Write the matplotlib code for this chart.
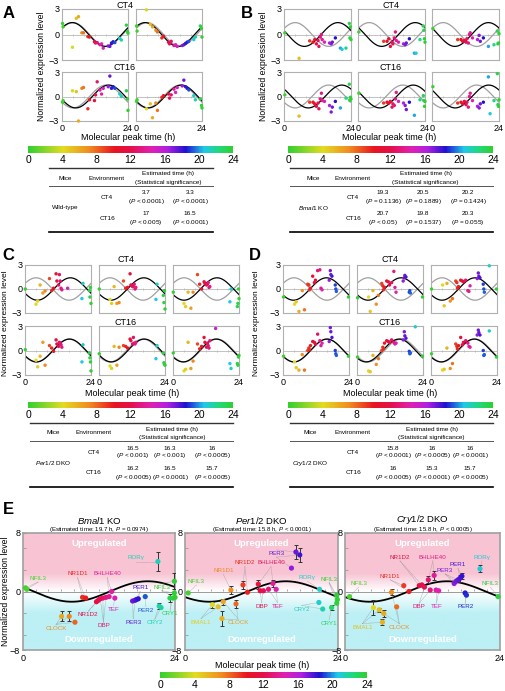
import numpy as np
import matplotlib
matplotlib.use("Agg")
import matplotlib.pyplot as plt
import matplotlib.colorbar as mcb
from matplotlib.colors import LinearSegmentedColormap, Normalize, to_rgb

plt.rcParams["font.family"] = ["Liberation Sans", "DejaVu Sans"]
plt.rcParams["mathtext.fontset"] = "custom"
plt.rcParams["mathtext.rm"] = "Liberation Sans"
plt.rcParams["mathtext.it"] = "Liberation Sans:italic"

W, H = 505, 691
AMP = 1.4
REF_CT4, REF_CT16 = 4.0, 16.0
nan = np.nan

# ---- panel A (wild-type), molecular peak times and normalized levels
xa = [0.2, 0.4, 3.8, 5.2, 6.0, 7.2, 7.8, 9.4, 10.0, 11.8, 12.2, 12.8, 13.8,
      14.4, 15.0, 16.8, 17.4, 18.0, 18.6, 19.2, 21.0, 21.6, 23.4, 23.8, 24.0]
a_ct4_1 = [1.3, 0.9, -1.5, 1.9, 2.1, 0.2, 0.2, -0.25, -0.3, -0.85, -1.0, -0.95, -1.2,
           -1.1, -1.6, -1.35, -1.4, -1.0, -0.85, -0.95, -0.45, -0.65, 1.1, 0.35, 0.15]
a_ct4_2 = [1.0, 0.4, 2.9, 1.2, 0.9, 0.5, 0.3, -0.4, -0.2, -0.9, -1.1, -0.8, -1.3,
           -1.2, -1.4, -1.3, -1.2, -1.05, -0.9, -0.8, -0.6, -0.3, 1.0, 0.7, -0.3]
a_ct16_1 = [-0.7, -0.5, 0.7, 0.6, -3.0, 1.0, 1.1, -1.5, -0.4, -0.5, 0.2, 1.8, 0.8,
            0.3, 1.0, 1.2, 2.5, 1.0, 1.2, 1.0, 0.3, 0.0, 0.7, -0.3, -1.7]
a_ct16_2 = [-0.6, -0.4, -1.5, -0.9, -2.6, -0.8, -1.7, -0.1, 0.1, 0.3, -0.2, 0.2, 0.9,
            0.5, 1.1, 1.3, 2.0, 1.2, 1.0, 0.8, 0.1, -0.4, -0.3, -1.1, -1.4]
a_est_ct4 = [3.7, 3.3]
a_est_ct16 = [17, 16.5]
a_p_ct4 = ["< 0.0001", "< 0.0001"]
a_p_ct16 = ["< 0.005", "< 0.0001"]

# ---- panel B (Bmal1 KO)
xb = [0.3, 5.4, 9.2, 10.4, 11.0, 11.6, 12.2, 12.5, 13.0, 13.4, 13.7, 14.5, 16.3,
      16.9, 17.3, 18.4, 20.2, 20.8, 22.2, 23.4, 23.6, 23.8, 24.0]
b_ct4_1 = [0.2, -2.8, -0.75, -0.9, -0.6, -1.1, -0.7, -1.4, -0.3, 0.0, -0.6, -0.9, -1.0,
           -1.1, -0.9, -0.4, -1.6, -1.75, -1.6, 1.3, -0.4, 0.9, -0.6]
b_ct4_2 = [0.3, nan, -0.8, -0.8, -0.5, -1.4, -0.9, -1.1, -0.4, 0.3, -0.7, -0.9, -1.1,
           -1.2, -1.0, -0.5, -2.2, -2.2, -0.6, 1.0, 0.5, -0.5, -0.9]
b_ct4_3 = [0.7, nan, -0.6, -0.6, -0.8, -0.7, -0.9, -0.5, -1.0, 0.0, 0.2, -0.4, -0.6,
           -0.1, -0.8, -0.4, -1.4, nan, -1.2, 0.4, -1.1, -1.0, 0.1]
b_ct16_1 = [0.2, -2.4, -0.7, -0.7, -0.9, -1.2, -0.8, -1.5, -0.3, 0.4, -0.5, -0.6, -1.1,
            -1.9, -1.3, -0.6, -1.4, nan, -0.2, 1.5, -0.5, -0.1, -0.3]
b_ct16_2 = [0.4, nan, -0.8, -0.7, -0.8, -0.6, -1.3, -0.9, -1.1, -0.3, 0.5, -0.6, -0.8,
            -1.1, -1.6, -0.7, -2.3, nan, -0.4, 0.1, -0.5, -1.2, -0.6]
b_ct16_3 = [1.2, nan, -0.8, -0.7, -0.9, -0.6, -1.0, -0.7, -1.3, 0.0, 0.4, -0.5, -1.2,
            -1.4, -0.9, -0.7, 2.4, -2.1, -0.5, 2.8, -1.0, -1.2, -0.4]
b_est_ct4 = [19.3, 20.5, 20.2]
b_est_ct16 = [20.7, 19.8, 20.3]
b_p_ct4 = ["= 0.1136", "= 0.1889", "= 0.1424"]
b_p_ct16 = ["< 0.05", "= 0.1537", "= 0.055"]

# ---- panel C (Per1/2 DKO)
xc = [0.1, 4.0, 4.6, 5.5, 6.5, 7.3, 8.9, 9.7, 10.4, 11.3, 11.6, 12.2, 12.5, 12.8,
      13.1, 13.4, 15.5, 20.7, 21.1, 23.4, 23.6, 23.8, 24.0]
c_ct4_1 = [0.0, -1.9, -1.5, 0.5, -0.5, -0.25, 1.3, -0.2, 0.1, 1.9, 1.0, 0.5, 1.8, 1.0,
           0.1, -0.1, 0.1, -1.2, 0.7, -0.2, -1.0, 0.2, -1.8]
c_ct4_2 = [0.0, -1.3, -1.8, 0.3, -1.8, -1.7, 1.0, 0.1, 0.2, 1.9, 0.5, 0.3, 0.4, 0.6,
           0.0, 0.2, nan, -1.3, 0.6, -0.8, -1.7, -0.2, -2.5]
c_ct4_3 = [-0.4, -1.8, -2.2, -0.4, -2.4, -0.4, 1.8, 0.6, 0.0, 0.9, 0.7, 0.5, 0.6, 0.8,
           0.2, 0.3, nan, -1.6, 0.0, -2.2, -1.8, 0.0, -1.2]
c_ct16_1 = [0.1, -1.2, -2.0, -0.7, 1.0, -1.8, 0.6, 0.3, -0.1, 1.3, 0.8, 0.5, 1.0, 0.9,
            0.7, 0.4, nan, -1.4, 0.7, -0.3, -0.9, -1.4, -2.5]
c_ct16_2 = [-0.4, -1.9, -2.2, 0.5, -1.8, 0.4, 0.6, 0.5, 0.3, 1.4, 1.2, 0.8, 1.6, 0.9,
            0.8, 1.0, nan, -1.0, 0.6, -0.3, -1.5, -1.7, -1.8]
c_ct16_3 = [-0.3, -2.5, -2.3, 1.0, -2.2, -1.3, 0.8, 0.2, 0.5, 1.6, 1.0, 0.4, 0.9, 0.6,
            0.3, 1.2, 2.7, -1.6, -2.2, -1.6, -1.8, -0.8, -0.6]
c_est_ct4 = [16.5, 16.3, 16]
c_est_ct16 = [16.2, 16.5, 15.7]
c_p_ct4 = ["< 0.001", "< 0.001", "< 0.0005"]
c_p_ct16 = ["< 0.0005", "< 0.0001", "< 0.0005"]

# ---- panel D (Cry1/2 DKO)
xd = [0.2, 4.2, 4.8, 5.8, 7.0, 7.8, 9.0, 9.4, 9.6, 10.0, 10.8, 11.4, 11.8, 12.6, 13.4,
      13.8, 14.2, 16.8, 17.2, 17.4, 17.8, 19.0, 19.2, 19.4, 21.2, 23.8]
d_ct4_1 = [-1.0, -1.9, -1.6, -2.8, -0.2, -2.6, 0.6, 0.5, -0.1, 0.1, 1.6, 0.8, 1.1, 2.3,
           2.4, 0.1, -0.1, 1.1, 2.3, 1.8, 1.6, 0.5, 0.0, -0.3, nan, -1.0]
d_ct4_2 = [-1.1, -1.0, -2.8, -0.2, -1.9, -0.8, 0.7, 0.4, -0.1, 0.2, 1.0, 0.9, 0.5, 0.8,
           2.2, 0.2, -0.4, 1.0, 1.4, 1.7, 1.5, -0.4, -0.2, -0.5, nan, -1.0]
d_ct4_3 = [0.0, 0.5, -2.1, 0.7, -1.5, -1.2, 1.0, 0.8, 0.1, 0.3, 1.1, 1.0, 0.9, 1.1,
           -0.2, -0.3, 0.4, 1.3, 2.0, 1.6, 1.4, 0.6, 0.0, -0.4, 2.9, 0.0]
d_ct16_1 = [-0.7, -1.4, -2.1, -2.4, -0.5, -2.4, 0.0, 0.3, 0.1, 0.6, 1.1, 1.0, 0.8, 2.0,
            1.2, 0.6, 0.9, 1.1, 2.8, 2.3, 1.6, 0.0, -0.4, -0.6, nan, -0.7]
d_ct16_2 = [-0.8, -2.5, -2.6, -0.6, -1.7, -1.0, 0.0, 0.4, 0.2, 0.9, 1.2, 1.1, 1.0, 1.3,
            1.0, 0.8, 0.9, 1.3, 2.3, 1.8, 1.5, -0.1, -0.4, -0.3, 2.9, -0.7]
d_ct16_3 = [-0.4, -2.4, -2.3, 0.3, -2.2, -1.6, 0.8, 0.5, 0.2, 0.6, 1.6, 0.7, 1.0, 1.2,
            0.9, 0.5, 0.4, 1.9, 2.5, 2.2, 1.9, 0.0, -0.6, -0.5, 2.4, -0.8]
d_est_ct4 = [15.8, 16, 16]
d_est_ct16 = [16, 15.3, 15.7]
d_p_ct4 = ["< 0.0001", "< 0.0005", "< 0.0001"]
d_p_ct16 = ["< 0.0005", "< 0.0001", "< 0.0005"]

# ---- panel E, clock genes
e_bmal_gene = ["NFIL3", "NFIL3", "CLOCK", "CLOCK", "CLOCK", "NR1D1", "NR1D1", "NR1D2", "NR1D2",
               "DBP", "DBP", "DBP", "BHLHE40", "BHLHE40", "TEF", "PER3", "PER3", "PER1", "PER1",
               "PER2", "RORγ", "CRY2", "CRY2", "CRY1", "CRY1", "NFIL3_", "NFIL3_", "NFIL3_"]
e_bmal_x = [0.4, 0.6, 6.1, 7.3, 8.2, 9.4, 9.9, 11.6, 11.9, 12.2, 12.6, 13.1, 13.6, 14.0, 14.5,
            17.3, 17.7, 17.9, 18.2, 19.3, 21.3, 21.5, 21.8, 23.2, 23.7, 23.9, 23.9, 24.0]
e_bmal_y = [0.5, 0.3, -3.4, -3.4, -4.2, -0.8, -0.9, -1.4, -1.2, -1.0, -0.9, -0.8, -0.7, 0.0, -0.9,
            -1.3, -1.2, -1.1, -1.0, -0.7, 4.1, -2.0, -2.2, -0.9, -0.9, 1.4, -0.2, -0.8]
e_bmal_err = [0, 0, 0.7, 0.7, 0, 0, 0, 0, 0, 0, 0, 0, 0, 0, 0,
              0, 0, 0, 0, 0, 1.3, 0.4, 0, 0.5, 0, 1.1, 0, 0]
e_bmal_est, e_bmal_p = 19.7, "= 0.0974"

e_per_gene = ["NFIL3", "BMAL1", "BMAL1", "CLOCK", "CLOCK", "CLOCK", "NR1D1", "NR1D2", "NR1D2",
              "BHLHE40", "DBP", "DBP", "TEF", "BHLHE40", "TEF", "PER3", "PER3", "PER3",
              "RORγ", "CRY2", "CRY2", "CRY1", "NFIL3_", "NFIL3_", "NFIL3_"]
e_per_x = [0.5, 4.3, 5.2, 5.8, 6.0, 8.0, 7.2, 9.1, 9.8, 11.5, 11.8, 12.3, 13.1, 13.8, 14.3,
           16.7, 17.4, 18.0, 21.1, 21.0, 21.6, 23.0, 23.8, 23.9, 23.8]
e_per_y = [-0.2, -1.8, -2.1, -3.7, -1.4, -1.7, 0.2, 0.9, -0.1, 1.0, 0.1, 0.1, 0.3, 1.1, 0.3,
           3.2, 5.4, 5.0, 0.3, -1.5, -2.4, -2.2, -0.5, -1.1, -1.6]
e_per_err = [0, 0.4, 0, 1.0, 0.4, 0.5, 0.5, 0.5, 0, 0.6, 0, 0, 0, 0.5, 0,
             0, 1.0, 1.0, 0, 0, 0, 0.3, 0, 0, 0]
e_per_est, e_per_p = 15.8, "< 0.0001"

e_cry_gene = ["NFIL3", "BMAL1", "BMAL1", "BMAL1", "CLOCK", "CLOCK", "CLOCK", "NR1D1", "NR1D1",
              "NR1D2", "NR1D2", "DBP", "BHLHE40", "DBP", "BHLHE40", "TEF", "TEF", "PER3", "PER3",
              "PER3", "PER1", "PER1", "PER2", "PER2", "RORγ", "NFIL3_"]
e_cry_x = [0.7, 4.4, 5.3, 5.8, 6.0, 7.2, 8.0, 9.1, 9.9, 11.5, 11.9, 12.3, 12.9, 13.2, 13.8,
           14.1, 14.5, 16.9, 17.2, 17.5, 17.8, 18.1, 18.6, 18.8, 20.9, 23.7]
e_cry_y = [-0.7, -2.2, -2.5, -4.2, -3.0, -0.1, -2.1, 0.8, 0.0, 0.8, 0.9, 0.6, 1.6, 0.2, 2.2,
           0.2, 0.1, 1.1, 1.4, 1.6, 1.8, 2.1, -0.2, -0.5, 3.1, -0.7]
e_cry_err = [0, 1.0, 0.3, 0.4, 0.5, 0.4, 0, 0, 0, 0, 0, 0, 0.5, 0, 0.6,
             0, 0, 0, 0, 0, 0.5, 0.4, 0, 0, 0.5, 0]
e_cry_est, e_cry_p = 15.8, "< 0.0005"

# label anchor positions (hours, level) for panel E
lab_bmal = {"NFIL3": (2.4, 1.8), "CLOCK": (5.2, -5.0), "NR1D1": (8.6, 2.4), "NR1D2": (10.3, -3.2),
            "BHLHE40": (13.3, 2.4), "DBP": (12.7, -4.7), "TEF": (14.3, -2.4), "PER1": (18.5, 0.5),
            "PER2": (19.4, -2.6), "PER3": (17.4, -4.2), "RORγ": (17.8, 4.6), "NFIL3_": (21.9, 0.6),
            "CRY2": (20.8, -4.3), "CRY1": (23.2, -3.0)}
lab_per = {"NFIL3": (1.8, 1.4), "BMAL1": (2.5, -4.2), "CLOCK": (8.3, -4.2), "NR1D1": (6.0, 2.9),
           "NR1D2": (9.4, 3.9), "BHLHE40": (13.5, 3.9), "DBP": (12.0, -2.0), "TEF": (14.5, -2.0),
           "PER3": (14.3, 5.2), "RORγ": (19.2, 1.9), "NFIL3_": (22.6, 1.7), "CRY2": (18.3, -2.4),
           "CRY1": (22.6, -4.4)}
lab_cry = {"NFIL3": (2.1, 1.1), "BMAL1": (2.7, -4.9), "CLOCK": (8.4, -4.9), "NR1D1": (7.0, 2.1),
           "NR1D2": (8.5, 4.7), "BHLHE40": (13.6, 4.7), "DBP": (11.5, -2.1), "TEF": (14.2, -2.1),
           "PER3": (15.5, 2.9), "PER1": (17.5, 3.7), "PER2": (18.6, -2.1), "RORγ": (21.2, 4.7),
           "NFIL3_": (22.5, 1.1)}

cmap = LinearSegmentedColormap.from_list("peak", [
    (0.0, "#30d030"), (0.17, "#e2dc20"), (0.3, "#f08a20"), (0.42, "#e81420"),
    (0.5, "#e4104a"), (0.6, "#e020b0"), (0.68, "#b020e0"), (0.77, "#2010d0"),
    (0.86, "#20c8e8"), (0.93, "#20d880"), (1.0, "#30d030")])

fig = plt.figure(figsize=(W / 100, H / 100), dpi=100)
t = np.linspace(0, 24, 300)


def box(x0, y0, x1, y1):
    return [x0 / W, 1 - y1 / H, (x1 - x0) / W, (y1 - y0) / H]


def put(x, y, s, **kw):
    kw.setdefault("ha", "center")
    kw.setdefault("va", "center")
    fig.text(x / W, 1 - y / H, s, **kw)


def cosine(peak):
    return AMP * np.cos(2 * np.pi * (t - peak) / 24)


def ptxt(p):
    return r"($\it{P}$ " + p + ")"


def small(rect, xs, ys, est, ref, left, bottom):
    ax = fig.add_axes(box(*rect))
    xs = np.asarray(xs, float)
    ys = np.asarray(ys, float)
    ax.axhline(0, color="#b8b8b8", lw=0.6, zorder=0)
    ax.plot(np.arange(4, 24, 4), np.zeros(5), "|", color="#b8b8b8", ms=2, mew=0.6)
    ax.plot(t, cosine(ref), color="#a0a0a0", lw=0.9)
    ax.plot(t, cosine(est), color="black", lw=0.9)
    m = ~np.isnan(ys)
    ax.scatter(xs[m], ys[m], c=xs[m], cmap=cmap, vmin=0, vmax=24, s=6, lw=0,
               zorder=3, clip_on=False)
    ax.set_xlim(0, 24)
    ax.set_ylim(-3, 3)
    for sp in ax.spines.values():
        sp.set_color("#b0b0b0")
        sp.set_linewidth(0.8)
    ax.set_yticks([-3, 0, 3])
    ax.set_xticks([0, 24])
    ax.tick_params(length=0, labelsize=6.5, pad=2)
    if not left:
        ax.set_yticklabels([])
    if not bottom:
        ax.set_xticklabels([])
    return ax


def grid(cols, rows, xs, ys_rows, est_rows, refs):
    for r, (y0, y1) in enumerate(rows):
        for c, (x0, x1) in enumerate(cols):
            small((x0, y0, x1, y1), xs, ys_rows[r][c], est_rows[r][c], refs[r],
                  c == 0, r == len(rows) - 1)


def colorbar(x0, x1, y0, y1):
    cax = fig.add_axes(box(x0, y0, x1, y1))
    cb = mcb.ColorbarBase(cax, cmap=cmap, norm=Normalize(0, 24), orientation="horizontal",
                          ticks=range(0, 25, 4))
    cb.outline.set_visible(False)
    cax.tick_params(length=0, labelsize=7.5, pad=1.5)


def table(x0, x1, y0, mice_x, env_x, val_x, mice, est4, p4, est16, p16):
    fs = 4.6
    lax = fig.add_axes([0, 0, 1, 1], facecolor="none")
    lax.set_xlim(0, W)
    lax.set_ylim(H, 0)
    lax.axis("off")
    lax.plot([x0, x1], [y0, y0], color="#333333", lw=1.0)
    lax.plot([x0, x1], [y0 + 18, y0 + 18], color="#555555", lw=0.7)
    lax.plot([x0, x1], [y0 + 64, y0 + 64], color="black", lw=1.2)
    est_x = (val_x[0] + val_x[-1]) / 2
    put(mice_x, y0 + 10, "Mice", fontsize=fs)
    put(env_x, y0 + 10, "Environment", fontsize=fs)
    put(est_x, y0 + 6, "Estimated time (h)", fontsize=fs)
    put(est_x, y0 + 14, "(Statistical significance)", fontsize=fs)
    put(mice_x, y0 + 40, mice, fontsize=fs)
    put(env_x, y0 + 29, "CT4", fontsize=fs)
    put(env_x, y0 + 50, "CT16", fontsize=fs)
    for vx, e, p in zip(val_x, est4, p4):
        put(vx, y0 + 25, f"{e:g}", fontsize=fs)
        put(vx, y0 + 33, ptxt(p), fontsize=fs)
    for vx, e, p in zip(val_x, est16, p16):
        put(vx, y0 + 46, f"{e:g}", fontsize=fs)
        put(vx, y0 + 54, ptxt(p), fontsize=fs)


def epanel(rect, genes, xs, ys, errs, est, labels):
    ax = fig.add_axes(box(*rect))
    xs = np.asarray(xs, float)
    ys = np.asarray(ys, float)
    errs = np.asarray(errs, float)
    yy = np.linspace(8, -8, 300)[:, None]
    pink = np.array(to_rgb("#f8c4d4"))
    cyan = np.array(to_rgb("#bcf0f5"))
    up = np.clip(yy / 2.5, 0, 1)[..., None]
    dn = np.clip(-yy / 3.0, 0, 1)[..., None]
    img = 1 - up * (1 - pink) - dn * (1 - cyan)
    ax.imshow(np.repeat(img, 2, axis=1), extent=[0, 24, -8, 8], aspect="auto", zorder=0)
    ax.text(12, 6.6, "Upregulated", color="white", fontsize=6.8, fontweight="bold",
            ha="center", va="center")
    ax.text(12, -6.5, "Downregulated", color="white", fontsize=6.8, fontweight="bold",
            ha="center", va="center")
    ax.axhline(0, color="#999999", lw=0.7, zorder=1)
    ax.plot(np.arange(2, 24, 2), np.zeros(11) + 0.15, "|", color="#999999", ms=2, mew=0.6)
    ax.plot(t, cosine(est), color="black", lw=1.3, zorder=2)
    g = np.array(genes)
    for name, (lx, ly) in labels.items():
        idx = np.where(g == name)[0]
        col = cmap(np.mean(xs[idx]) / 24)
        ax.text(lx, ly, name.rstrip("_"), color=col, fontsize=4.5, ha="center", va="center",
                zorder=6, clip_on=False)
        for i in idx:
            sy = ly - 0.5 if ly > ys[i] else ly + 0.5
            ax.plot([lx, xs[i]], [sy, ys[i]], color="#8a8a8a", lw=0.4, ls=(0, (1, 1)),
                    zorder=2, clip_on=False)
    m = errs > 0
    ax.errorbar(xs[m], ys[m], yerr=errs[m], fmt="none", ecolor="#333333", elinewidth=0.7,
                capsize=1.6, capthick=0.7, zorder=3)
    ax.scatter(xs, ys, c=xs, cmap=cmap, vmin=0, vmax=24, s=14, lw=0, zorder=4, clip_on=False)
    ax.set_xlim(0, 24)
    ax.set_ylim(-8, 8)
    for sp in ax.spines.values():
        sp.set_color("#a0a0a0")
        sp.set_linewidth(1.2)
    ax.set_xticks([0, 24])
    ax.set_yticks([-8, 0, 8])
    ax.set_yticks([-6, -3, 3, 6], minor=True)
    ax.tick_params(axis="x", length=0, labelsize=6.5, pad=3)
    ax.tick_params(axis="y", which="both", direction="in", length=2, color="#999999",
                   labelsize=6.5, pad=2)
    ax.set_zorder(2)
    return ax


# ---- A
grid([(62, 128), (136, 202)], [(9, 60), (72, 121)], xa,
     [[a_ct4_1, a_ct4_2], [a_ct16_1, a_ct16_2]], [a_est_ct4, a_est_ct16], [REF_CT4, REF_CT16])
put(125, 5, "CT4", fontsize=6.5)
put(125, 67, "CT16", fontsize=6.5)
put(42, 66, "Normalized expression level", fontsize=6.2, rotation=90)
put(128, 137, "Molecular peak time (h)", fontsize=6.5)
colorbar(28, 233, 146, 153)
table(49, 213, 168, 65, 107, [146, 190], "Wild-type", a_est_ct4, a_p_ct4, a_est_ct16, a_p_ct16)

# ---- B
grid([(284, 351), (358, 425), (432, 499)], [(9, 60), (72, 121)], xb,
     [[b_ct4_1, b_ct4_2, b_ct4_3], [b_ct16_1, b_ct16_2, b_ct16_3]],
     [b_est_ct4, b_est_ct16], [REF_CT4, REF_CT16])
put(391, 5, "CT4", fontsize=6.5)
put(391, 67, "CT16", fontsize=6.5)
put(263, 66, "Normalized expression level", fontsize=6.2, rotation=90)
put(389, 137, "Molecular peak time (h)", fontsize=6.5)
colorbar(288, 493, 146, 153)
table(290, 493, 168, 313, 353, [383, 423, 468], r"$\it{Bmal1}$ KO",
      b_est_ct4, b_p_ct4, b_est_ct16, b_p_ct16)

# ---- C
grid([(25, 91), (99, 165), (173, 239)], [(265, 313), (326, 375)], xc,
     [[c_ct4_1, c_ct4_2, c_ct4_3], [c_ct16_1, c_ct16_2, c_ct16_3]],
     [c_est_ct4, c_est_ct16], [REF_CT4, REF_CT16])
put(126, 260, "CT4", fontsize=6.5)
put(126, 322, "CT16", fontsize=6.5)
put(6, 323, "Normalized expression level", fontsize=6.0, rotation=90)
put(132, 393, "Molecular peak time (h)", fontsize=6.5)
colorbar(28, 233, 402, 408)
table(30, 233, 423, 53, 94, [133, 170, 212], r"$\it{Per1/2}$ DKO",
      c_est_ct4, c_p_ct4, c_est_ct16, c_p_ct16)

# ---- D
grid([(283, 349), (357, 423), (431, 497)], [(265, 313), (326, 375)], xd,
     [[d_ct4_1, d_ct4_2, d_ct4_3], [d_ct16_1, d_ct16_2, d_ct16_3]],
     [d_est_ct4, d_est_ct16], [REF_CT4, REF_CT16])
put(390, 260, "CT4", fontsize=6.5)
put(390, 322, "CT16", fontsize=6.5)
put(256, 323, "Normalized expression level", fontsize=6.0, rotation=90)
put(390, 393, "Molecular peak time (h)", fontsize=6.5)
colorbar(288, 493, 402, 408)
table(290, 493, 423, 310, 353, [393, 432, 470], r"$\it{Cry1/2}$ DKO",
      d_est_ct4, d_p_ct4, d_est_ct16, d_p_ct16)

# ---- E
e_rects = [(23, 533, 175, 650), (185, 533, 338, 650), (345, 533, 500, 650)]
e_titles = [r"$\it{Bmal1}$ KO", r"$\it{Per1/2}$ DKO", r"$\it{Cry1/2}$ DKO"]
e_data = [(e_bmal_gene, e_bmal_x, e_bmal_y, e_bmal_err, e_bmal_est, e_bmal_p, lab_bmal),
          (e_per_gene, e_per_x, e_per_y, e_per_err, e_per_est, e_per_p, lab_per),
          (e_cry_gene, e_cry_x, e_cry_y, e_cry_err, e_cry_est, e_cry_p, lab_cry)]
for rect, title, (gn, ex, ey, ee, est, p, lab) in zip(e_rects, e_titles, e_data):
    epanel(rect, gn, ex, ey, ee, est, lab)
    cx = (rect[0] + rect[2]) / 2
    put(cx, 520, title, fontsize=6.8)
    put(cx, 530, f"(Estimated time: {est:g} h, " + r"$\it{P}$ " + p + ")", fontsize=4.4)
put(6, 591, "Normalized expression level", fontsize=6.2, rotation=90)
put(262, 665, "Molecular peak time (h)", fontsize=6.5)
colorbar(160, 367, 672, 678)

for letter, x, y in [("A", 9, 14), ("B", 247, 14), ("C", 8, 256), ("D", 255, 256), ("E", 8, 510)]:
    put(x, y, letter, fontsize=12, fontweight="bold")

fig.savefig("out.png", dpi=100)
